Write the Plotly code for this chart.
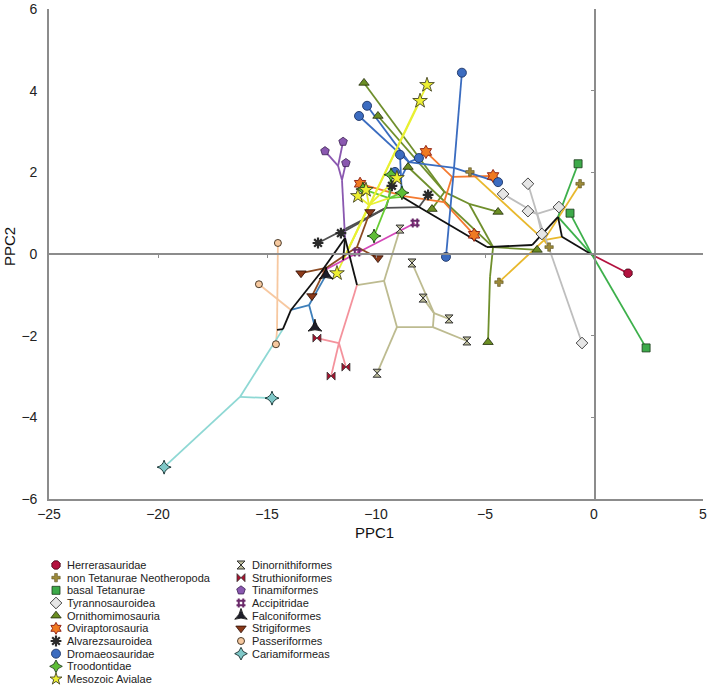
import plotly.graph_objects as go

FONT = "Arial, 'Liberation Sans', Helvetica, sans-serif"

# ---------------- internal nodes of the phylogeny (PPC1, PPC2) ----------------
node_names = ["R", "N1", "TET", "COEL", "M1", "A1", "PV", "A2", "NEO", "PAL", "NB", "NB2", "NB3",
              "NT", "TY", "O0", "O1", "O4", "O5", "OV1", "OV2", "OV3", "D1", "D2", "D3", "TR",
              "Y0", "Y1", "K1", "K2", "K3", "K4", "P1", "T1", "T2", "AC1", "S1", "S2", "F1",
              "PS0", "C1"]
node_x = [-0.09, -1.47, -1.65, -2.84, -4.91, -8.03, -8.81, -9.54, -11.42, -10.87, -12.52, -13.90, -14.27,
          -2.29, -2.61, -4.63, -4.77, -5.73, -6.86, -6.51, -6.88, -8.72, -6.42, -8.49, -8.85, -9.40,
          -11.51, -10.32, -9.63, -9.04, -7.39, -7.34, -11.70, -11.74, -11.56, -10.78, -10.87, -12.29, -13.07,
          -14.54, -16.24]
node_y = [-0.02, 0.42, 0.91, 0.22, 0.17, 1.15, 1.40, 1.13, 0.39, -0.76, -0.44, -1.37, -1.84,
          0.34, 0.98, 0.17, -0.56, 1.23, 1.52, 1.89, 1.27, 1.42, 2.11, 2.25, 1.86, 1.37,
          -0.15, 1.20, -0.66, -1.79, -1.79, -1.45, -2.18, 2.16, 1.81, 0.05, 0.17, -0.34, -1.25,
          -1.86, -3.50]

backbone_edges = [("R", "N1"), ("N1", "TET"), ("TET", "COEL"), ("COEL", "M1"), ("M1", "A1"),
                  ("A1", "PV"), ("NEO", "PAL"), ("NEO", "NB"), ("NB", "NB2"), ("NB2", "NB3"),
                  ("NB3", "PS0"), ("NEO", "Y0")]

# ---------------- tips per clade ----------------
herrera_x = [1.56]
herrera_y = [-0.47]
herrera_edges = [("R", "t0")]

nontet_x = [-5.69, -0.64, -2.06, -4.36]
nontet_y = [2.01, 1.72, 0.17, -0.69]
nontet_edges = [("N1", "NT"), ("NT", "t0"), ("NT", "t1"), ("NT", "t2"), ("NT", "t3")]

basaltet_x = [-0.73, -1.10, 2.39]
basaltet_y = [2.21, 1.00, -2.30]
basaltet_edges = [("t0", "TET"), ("TET", "R"), ("R", "t1"), ("R", "t2")]

tyranno_x = [-4.17, -3.03, -3.03, -1.61, -2.39, -0.55]
tyranno_y = [1.47, 1.72, 1.05, 1.15, 0.49, -2.18]
tyranno_edges = [("TY", "t0"), ("TY", "t1"), ("TY", "t2"), ("TY", "t3"), ("TY", "t4"), ("TY", "t5")]

ornitho_x = [-10.55, -9.91, -8.53, -7.43, -4.40, -2.61, -4.86]
ornitho_y = [4.19, 3.38, 2.13, 1.10, 1.03, 0.10, -2.16]
ornitho_edges = [("M1", "O0"), ("O0", "O1"), ("O1", "t6"), ("O0", "t5"), ("O0", "O4"), ("O4", "t4"),
                 ("O4", "O5"), ("O5", "t3"), ("O5", "t0"), ("O5", "t1"), ("O0", "t2")]

ovirap_x = [-7.71, -4.63, -5.50, -10.73]
ovirap_y = [2.50, 1.91, 0.47, 1.72]
ovirap_edges = [("OV1", "t0"), ("OV1", "t1"), ("OV1", "OV2"), ("OV2", "t2"), ("OV2", "OV3"), ("OV3", "t3")]

alvarez_x = [-9.27, -7.61, -12.66, -11.61]
alvarez_y = [1.67, 1.45, 0.27, 0.51]
alvarez_edges = [("A1", "t1"), ("A1", "A2"), ("A2", "t2"), ("A2", "t3"), ("A2", "t0")]

dromaeo_x = [-6.06, -10.41, -10.78, -8.90, -8.03, -9.13, -4.40, -6.79]
dromaeo_y = [4.44, 3.63, 3.38, 2.43, 2.35, 2.01, 1.76, -0.07]
dromaeo_edges = [("D1", "t0"), ("D1", "t7"), ("D1", "t6"), ("D1", "D2"), ("D2", "t4"), ("D2", "t1"),
                 ("D2", "t2"), ("D2", "D3"), ("D3", "t3"), ("D3", "t5"), ("D3", "PV")]

troodon_x = [-9.31, -8.81, -10.09, -10.60]
troodon_y = [1.94, 1.50, 0.44, 1.59]
troodon_edges = [("TR", "t0"), ("TR", "t1"), ("TR", "t2"), ("TR", "t3"), ("TR", "PV")]

avialae_x = [-7.66, -7.98, -10.83, -10.46, -9.04, -11.79]
avialae_y = [4.14, 3.75, 1.42, 1.57, 1.86, -0.47]
avialae_edges = [("Y0", "t5"), ("Y0", "t0"), ("Y0", "t1"), ("Y0", "Y1"), ("Y1", "t2"), ("Y1", "t3"),
                 ("Y1", "t4"), ("Y1", "TR")]

dinorn_x = [-8.90, -8.35, -7.84, -6.65, -5.83, -9.95]
dinorn_y = [0.61, -0.22, -1.08, -1.59, -2.13, -2.92]
dinorn_edges = [("PAL", "K1"), ("K1", "t0"), ("K1", "K2"), ("K2", "t5"), ("K2", "K3"), ("K3", "t4"),
                ("K3", "K4"), ("K4", "t3"), ("K4", "t1"), ("K4", "t2")]

struth_x = [-12.71, -11.38, -12.06]
struth_y = [-2.06, -2.77, -2.99]
struth_edges = [("PAL", "P1"), ("P1", "t0"), ("P1", "t1"), ("P1", "t2")]

tinam_x = [-12.34, -11.51, -11.38]
tinam_y = [2.52, 2.75, 2.23]
tinam_edges = [("T1", "t0"), ("T1", "t1"), ("T1", "T2"), ("T2", "t2"), ("T2", "NEO")]

accip_x = [-8.21, -10.87]
accip_y = [0.76, 0.05]
accip_edges = [("NB", "AC1"), ("AC1", "t1"), ("AC1", "t0")]

falco_x = [-12.29, -12.80]
falco_y = [-0.51, -1.79]
falco_edges = [("NB2", "F1"), ("F1", "t0"), ("F1", "t1")]

strig_x = [-13.44, -10.28, -9.91, -12.94]
strig_y = [-0.47, 1.03, -0.10, -1.03]
strig_edges = [("S1", "t1"), ("S1", "t2"), ("S1", "S2"), ("S2", "t0"), ("S2", "t3"), ("S2", "NB")]

passer_x = [-14.50, -15.37, -14.59]
passer_y = [0.27, -0.74, -2.21]
passer_edges = [("PS0", "t0"), ("PS0", "t2"), ("NB2", "t1")]

cariam_x = [-14.77, -19.72]
cariam_y = [-3.53, -5.22]
cariam_edges = [("NB3", "C1"), ("C1", "t0"), ("C1", "t1")]

clade_names = ["Herrerasauridae", "non Tetanurae Neotheropoda", "basal Tetanurae", "Tyrannosauroidea",
               "Ornithomimosauria", "Oviraptorosauria", "Alvarezsauroidea", "Dromaeosauridae",
               "Troodontidae", "Mesozoic Avialae", "Dinornithiformes", "Struthioniformes",
               "Tinamiformes", "Accipitridae", "Falconiformes", "Strigiformes", "Passeriformes",
               "Cariamiformeas"]
clade_data = [(herrera_x, herrera_y, herrera_edges), (nontet_x, nontet_y, nontet_edges),
              (basaltet_x, basaltet_y, basaltet_edges), (tyranno_x, tyranno_y, tyranno_edges),
              (ornitho_x, ornitho_y, ornitho_edges), (ovirap_x, ovirap_y, ovirap_edges),
              (alvarez_x, alvarez_y, alvarez_edges), (dromaeo_x, dromaeo_y, dromaeo_edges),
              (troodon_x, troodon_y, troodon_edges), (avialae_x, avialae_y, avialae_edges),
              (dinorn_x, dinorn_y, dinorn_edges), (struth_x, struth_y, struth_edges),
              (tinam_x, tinam_y, tinam_edges), (accip_x, accip_y, accip_edges),
              (falco_x, falco_y, falco_edges), (strig_x, strig_y, strig_edges),
              (passer_x, passer_y, passer_edges), (cariam_x, cariam_y, cariam_edges)]

# ---------------- styles (symbol, fill, outline, outline width, size, branch colour) ----------------
STYLE = {
    "Herrerasauridae": ("octagon", "#B3123F", "#3a0010", 0.8, 9, "#B3123F"),
    "non Tetanurae Neotheropoda": ("cross", "#9C8A3A", "#4a4010", 0.5, 7, "#E8B82C"),
    "basal Tetanurae": ("square", "#3DAA4A", "#1a3a1a", 0.8, 8, "#3DB04B"),
    "Tyrannosauroidea": ("diamond", "#E6E6E6", "#333333", 0.9, 9, "#BEBEBE"),
    "Ornithomimosauria": ("triangle-up", "#6B8E23", "#1f2a08", 0.8, 9, "#6F8F2C"),
    "Oviraptorosauria": ("hexagram", "#F07A22", "#8A1A10", 0.9, 10, "#F47A30"),
    "Alvarezsauroidea": ("asterisk-open", "#2A2A2A", "#2A2A2A", 2.2, 9, "#505050"),
    "Dromaeosauridae": ("circle", "#3C6CC0", "#1C3466", 0.9, 9, "#3A6CC0"),
    "Troodontidae": ("star-diamond", "#5EBE36", "#1a3a10", 0.9, 10, "#66CC33"),
    "Mesozoic Avialae": ("star", "#EEF032", "#444422", 0.9, 11, "#E8F032"),
    "Dinornithiformes": ("hourglass", "#BDBD9A", "#333333", 1.0, 8, "#BDBB90"),
    "Struthioniformes": ("bowtie", "#A8122E", "#333333", 0.8, 8, "#F4929C"),
    "Tinamiformes": ("pentagon", "#8A58B0", "#3a2050", 0.8, 9, "#8A58B0"),
    "Accipitridae": ("hash-open", "#6A2A6A", "#6A2A6A", 2.0, 9, "#D448B8"),
    "Falconiformes": ("star-triangle-up", "#1E1E2A", "#000000", 0.8, 10, "#3E7FBA"),
    "Strigiformes": ("triangle-down", "#8B3A1A", "#2a0a00", 0.8, 9, "#8B4A22"),
    "Passeriformes": ("circle", "#F6C9A0", "#3a2a1a", 0.9, 7, "#F7C8A0"),
    "Cariamiformeas": ("star-diamond", "#7FC8C8", "#102a2a", 0.9, 10, "#8ED8D4"),
}
BACKBONE = "#111111"
AXIS_GREY = "#8C8C8C"

node_pos = {n: (x, y) for n, x, y in zip(node_names, node_x, node_y)}


def point(ref, tx, ty):
    if ref[0] == "t" and ref[1:].isdigit():
        i = int(ref[1:])
        return tx[i], ty[i]
    return node_pos[ref]


def segments(edges, tx, ty):
    xs, ys = [], []
    for a, b in edges:
        xa, ya = point(a, tx, ty)
        xb, yb = point(b, tx, ty)
        xs += [xa, xb, None]
        ys += [ya, yb, None]
    return xs, ys


fig = go.Figure()

# branches
for name, (tx, ty, edges) in zip(clade_names, clade_data):
    xs, ys = segments(edges, tx, ty)
    fig.add_trace(go.Scatter(x=xs, y=ys, mode="lines", line=dict(color=STYLE[name][5], width=1.8),
                             hoverinfo="skip", showlegend=False))
xs, ys = segments(backbone_edges, [], [])
fig.add_trace(go.Scatter(x=xs, y=ys, mode="lines", line=dict(color=BACKBONE, width=1.8),
                         hoverinfo="skip", showlegend=False))

# tips
for name, (tx, ty, edges) in zip(clade_names, clade_data):
    sym, fill, edge, ew, size, _ = STYLE[name]
    fig.add_trace(go.Scatter(x=tx, y=ty, mode="markers", name=name, showlegend=False,
                             marker=dict(symbol=sym, size=size, color=fill,
                                         line=dict(color=edge, width=ew))))

# zero-line axes (overlaid)
fig.add_trace(go.Scatter(x=[None], y=[None], xaxis="x2", yaxis="y2", showlegend=False, hoverinfo="skip"))

# custom legend (two columns)
col1_n = 10
ann = []
for i, name in enumerate(clade_names):
    col = 0 if i < col1_n else 1
    row = i if col == 0 else i - col1_n
    mx = 56 if col == 0 else 241
    sym, fill, edge, ew, size, _ = STYLE[name]
    fig.add_trace(go.Scatter(x=[mx], y=[-row], xaxis="x3", yaxis="y3", mode="markers",
                             showlegend=False, hoverinfo="skip",
                             marker=dict(symbol=sym, size=min(size, 9), color=fill,
                                         line=dict(color=edge, width=ew))))
    ann.append(dict(x=mx + 9, y=-row, xref="x3", yref="y3", text=name, showarrow=False,
                    xanchor="left", yanchor="middle", font=dict(family=FONT, size=11, color="#222")))

ann.append(dict(x=375 / 709, y=1 - 532 / 686, xref="paper", yref="paper", text="PPC1", showarrow=False,
                xanchor="center", yanchor="middle", font=dict(family=FONT, size=15, color="#111")))
ann.append(dict(x=10 / 709, y=1 - 247 / 686, xref="paper", yref="paper", text="PPC2", showarrow=False,
                textangle=-90, xanchor="center", yanchor="middle",
                font=dict(family=FONT, size=15, color="#111")))

xdom = [49 / 709, 703 / 709]
ydom = [1 - 499 / 686, 1 - 9 / 686]

fig.update_layout(
    width=709, height=686,
    margin=dict(l=0, r=0, t=0, b=0, autoexpand=False),
    paper_bgcolor="white", plot_bgcolor="white",
    showlegend=False,
    annotations=ann,
    xaxis=dict(domain=xdom, range=[-25, 5], tickvals=[-25, -20, -15, -10, -5, 0, 5],
               showline=True, linecolor=AXIS_GREY, linewidth=1.6, ticks="", showgrid=False,
               zeroline=False, anchor="y", tickfont=dict(family=FONT, size=14, color="#222"),
               ticklabelstandoff=1, automargin=False, fixedrange=True),
    yaxis=dict(domain=ydom, range=[-6, 6], tickvals=[-6, -4, -2, 0, 2, 4, 6],
               showline=True, linecolor=AXIS_GREY, linewidth=1.6, ticks="", showgrid=False,
               zeroline=False, anchor="x", tickfont=dict(family=FONT, size=14, color="#222"),
               ticklabelstandoff=7, automargin=False, fixedrange=True),
    xaxis2=dict(domain=xdom, range=[-25, 5], overlaying="x", anchor="free",
                position=1 - 254 / 686, side="bottom", showline=True, linecolor=AXIS_GREY,
                linewidth=1.6, ticks="outside", ticklen=3, tickwidth=1, tickcolor=AXIS_GREY,
                tickvals=[-20, -15, -10, -5], showticklabels=False, showgrid=False, zeroline=False,
                automargin=False, fixedrange=True),
    yaxis2=dict(domain=ydom, range=[-6, 6], overlaying="y", anchor="free",
                position=594.5 / 709, side="left", showline=True, linecolor=AXIS_GREY,
                linewidth=1.6, ticks="outside", ticklen=3, tickwidth=1, tickcolor=AXIS_GREY,
                tickvals=[-4, -2, 2, 4], showticklabels=False, showgrid=False, zeroline=False,
                automargin=False, fixedrange=True),
    xaxis3=dict(domain=[0, 1], range=[0, 709], visible=False, anchor="y3", fixedrange=True),
    yaxis3=dict(domain=[0, 1 - 555 / 686], range=[-9.553, 0.789], visible=False, anchor="x3",
                fixedrange=True),
)

fig.write_html("out.html", config={"displayModeBar": False},
               post_script="document.body.style.margin='0px';document.body.style.overflow='hidden';")
